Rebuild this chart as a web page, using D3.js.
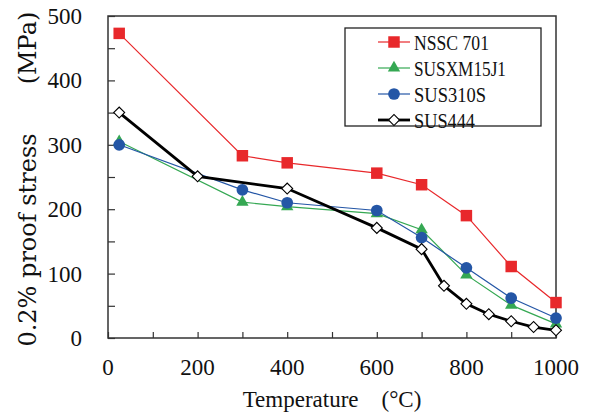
<!DOCTYPE html>
<html>
<head>
<meta charset="utf-8">
<script src="https://cdn.jsdelivr.net/npm/d3@7"></script>
<style>
  body { margin: 0; background: #fff; }
  text { fill: #111; }
</style>
</head>
<body>
<script>
// temperatures (deg C) for each grade
var tempNssc = [25, 300, 400, 600, 700, 800, 900, 1000];
var nssc701 = [473, 283, 272, 256, 238, 190, 111, 55];

var tempXm = [25, 300, 400, 600, 700, 800, 900, 1000];
var susxm15j1 = [305, 211, 204, 193, 168, 98, 51, 22];

var temp310 = [25, 300, 400, 600, 700, 800, 900, 1000];
var sus310s = [300, 230, 210, 198, 156, 109, 62, 31];

var temp444 = [25, 200, 400, 600, 700, 750, 800, 850, 900, 950, 1000];
var sus444 = [350, 251, 232, 171, 138, 81, 53, 37, 26, 17, 12];

var xTicks = [0, 200, 400, 600, 800, 1000];
var yTicks = [0, 100, 200, 300, 400, 500];

var series = [
  {name: "NSSC 701", t: tempNssc, v: nssc701, color: "#e8282b", width: 1.2, mark: "square", tl: 75},
  {name: "SUSXM15J1", t: tempXm, v: susxm15j1, color: "#35a853", width: 1.2, mark: "triangle", tl: 92},
  {name: "SUS310S", t: temp310, v: sus310s, color: "#2456a6", width: 1.2, mark: "circle", tl: 72},
  {name: "SUS444", t: temp444, v: sus444, color: "#000000", width: 2.8, mark: "diamond", tl: 61}
];

var W = 595, H = 414;
// note: "top" is taken by window.top, so prefix these
var pLeft = 108, pRight = 556, pTop = 16, pBottom = 338;
var serif = "'Liberation Serif', 'DejaVu Serif', serif";

var svg = d3.select("body").append("svg")
  .attr("width", W)
  .attr("height", H);

var x = d3.scaleLinear().domain([0, 1000]).range([pLeft, pRight]);
var y = d3.scaleLinear().domain([0, 500]).range([pBottom, pTop]);

// plot frame
svg.append("rect")
  .attr("x", pLeft).attr("y", pTop)
  .attr("width", pRight - pLeft).attr("height", pBottom - pTop)
  .attr("fill", "none").attr("stroke", "#333").attr("stroke-width", 1.5);

// y axis: inner ticks every 50, labels every 100
var yAxis = d3.axisLeft(y).tickValues(d3.range(0, 501, 50)).tickSize(-7).tickFormat("");
svg.append("g").attr("transform", "translate(" + pLeft + ",0)").call(yAxis)
  .call(function (g) { g.select(".domain").remove(); })
  .selectAll("line").attr("stroke", "#333").attr("stroke-width", 1.2);

svg.selectAll(".ylab").data(yTicks).enter().append("text")
  .attr("x", 82).attr("y", function (d) { return y(d); })
  .attr("dy", "0.35em")
  .attr("text-anchor", "end")
  .attr("font-family", serif)
  .attr("font-size", 23)
  .text(function (d) { return d; });

// x axis: inner ticks every 100, labels every 200
var xAxis = d3.axisBottom(x).tickValues(d3.range(0, 1001, 100)).tickSize(-6).tickFormat("");
svg.append("g").attr("transform", "translate(0," + pBottom + ")").call(xAxis)
  .call(function (g) { g.select(".domain").remove(); })
  .selectAll("line").attr("stroke", "#333").attr("stroke-width", 1.2);

svg.selectAll(".xlab").data(xTicks).enter().append("text")
  .attr("x", function (d) { return x(d); }).attr("y", 367)
  .attr("dy", "0.35em")
  .attr("text-anchor", "middle")
  .attr("font-family", serif)
  .attr("font-size", 23)
  .text(function (d) { return d; });

// axis titles
svg.append("text")
  .attr("x", 332).attr("y", 399).attr("dy", "0.35em")
  .attr("text-anchor", "middle")
  .attr("font-family", serif)
  .attr("font-size", 23)
  .text("Temperature\u3000(°C)");

// y title is set in two pieces: the original has a wide gap before the unit
var yTitle = [
  {txt: "0.2% proof stress", cy: 240},
  {txt: "(MPa)", cy: 48}
];
yTitle.forEach(function (t) {
  svg.append("text")
    .attr("transform", "translate(28," + t.cy + ") rotate(-90)")
    .attr("dy", "0.35em")
    .attr("text-anchor", "middle")
    .attr("font-family", "'DejaVu Serif', serif")
    .attr("font-size", 24)
    .text(t.txt);
});

function markerPath(kind) {
  if (kind == "square") return d3.symbol(d3.symbolSquare, 132)();
  if (kind == "triangle") return d3.symbol(d3.symbolTriangle, 66)();
  if (kind == "circle") return d3.symbol(d3.symbolCircle, 108)();
  return d3.symbol(d3.symbolSquare, 60)(); // rotated later -> diamond
}

function drawMarker(g, s, cx, cy) {
  var p = g.append("path")
    .attr("d", markerPath(s.mark))
    .attr("transform", "translate(" + cx + "," + cy + ")" + (s.mark == "diamond" ? " rotate(45)" : ""));
  if (s.mark == "diamond") {
    p.attr("fill", "#fff").attr("stroke", "#000").attr("stroke-width", 1.1);
  } else {
    p.attr("fill", s.color);
  }
}

var line = d3.line()
  .x(function (d) { return x(d[0]); })
  .y(function (d) { return y(d[1]); });

series.forEach(function (s) {
  var pts = s.t.map(function (t, i) { return [t, s.v[i]]; });
  var g = svg.append("g");
  g.append("path")
    .attr("d", line(pts))
    .attr("fill", "none")
    .attr("stroke", s.color)
    .attr("stroke-width", s.width);
  pts.forEach(function (p) { drawMarker(g, s, x(p[0]), y(p[1])); });
});

// legend
var leg = svg.append("g");
leg.append("rect")
  .attr("x", 345).attr("y", 28).attr("width", 196).attr("height", 98)
  .attr("fill", "#fff").attr("stroke", "#222").attr("stroke-width", 1.3);

series.forEach(function (s, i) {
  var ly = 42 + i * 26;
  leg.append("line")
    .attr("x1", 378).attr("x2", 410).attr("y1", ly).attr("y2", ly)
    .attr("stroke", s.color).attr("stroke-width", s.width);
  drawMarker(leg, s, 394, ly);
  // the original face is narrower than Liberation Serif, so squeeze to its width
  leg.append("text")
    .attr("x", 414).attr("y", ly).attr("dy", "0.36em")
    .attr("font-family", serif)
    .attr("font-size", 22)
    .attr("textLength", s.tl)
    .attr("lengthAdjust", "spacingAndGlyphs")
    .text(s.name);
});
</script>
</body>
</html>
